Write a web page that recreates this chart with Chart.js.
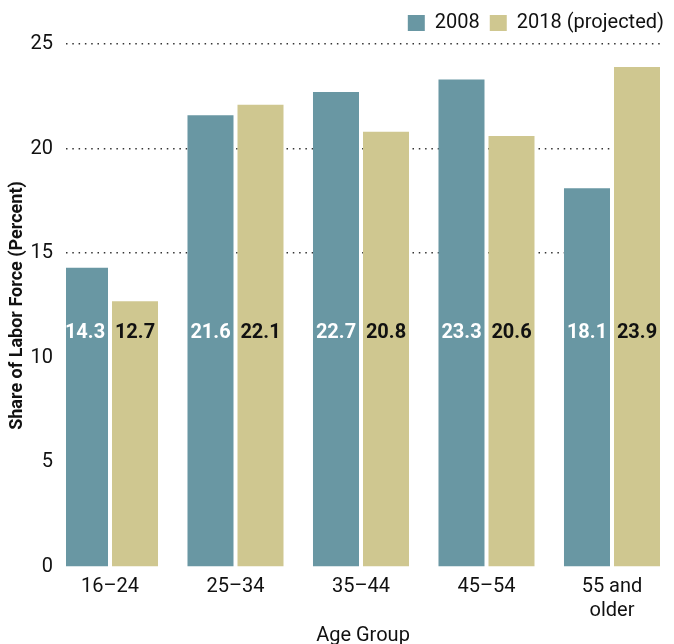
<!DOCTYPE html>
<html>
<head>
<meta charset="utf-8">
<script src="https://cdn.jsdelivr.net/npm/chart.js@4.4.1/dist/chart.umd.min.js"></script>
<style>
  html, body { margin: 0; padding: 0; background: #ffffff; }
  #wrap { width: 674px; height: 644px; position: relative; }
</style>
</head>
<body>
<div id="wrap"><canvas id="c"></canvas></div>
<script>
// ---- data ----
const categories = [["16\u201324"], ["25\u201334"], ["35\u201344"], ["45\u201354"], ["55 and", "older"]];
const seriesNames = ["2008", "2018 (projected)"];
const values2008 = [14.3, 21.6, 22.7, 23.3, 18.1];
const values2018 = [12.7, 22.1, 20.8, 20.6, 23.9];
const yTicks = [0, 5, 10, 15, 20, 25];
const yAxisTitle = "Share of Labor Force (Percent)";
const xAxisTitle = "Age Group";

const BLUE = "#6997a3";
const TAN = "#cfc790";
const FONT = "Roboto, 'DejaVu Sans', sans-serif";

const toPoints = arr => arr.map((v, i) => ({ x: i, y: v }));

const valueLabels = {
  id: "valueLabels",
  afterDatasetsDraw(chart, args, opts) {
    const ctx = chart.ctx;
    const yScale = chart.scales.y;
    ctx.save();
    ctx.font = "bold 20px " + FONT;
    ctx.textAlign = "center";
    ctx.textBaseline = "middle";
    chart.data.datasets.forEach((ds, di) => {
      const meta = chart.getDatasetMeta(di);
      ctx.fillStyle = opts.colors[di];
      meta.data.forEach((bar, i) => {
        const v = ds.data[i].y;
        ctx.fillText(v.toFixed(1), bar.x, yScale.getPixelForValue(opts.atValue));
      });
    });
    ctx.restore();
  }
};

const legendSpacer = {
  id: "legendSpacer",
  beforeInit(chart) {
    const lg = chart.legend;
    if (!lg) return;
    const orig = lg.fit;
    lg.fit = function () { orig.call(this); this.height += 1; };
  }
};

new Chart(document.getElementById("c"), {
  type: "bar",
  data: {
    datasets: [
      { label: seriesNames[0], data: toPoints(values2008), backgroundColor: BLUE, borderWidth: 0 },
      { label: seriesNames[1], data: toPoints(values2018), backgroundColor: TAN, borderWidth: 0 }
    ]
  },
  plugins: [valueLabels, legendSpacer],
  options: {
    responsive: true,
    maintainAspectRatio: false,
    animation: false,
    datasets: { bar: { categoryPercentage: 0.797, barPercentage: 0.92 } },
    layout: { padding: { left: 0, right: 0, top: 3, bottom: 0 } },
    plugins: {
      legend: {
        position: "top",
        align: "end",
        labels: {
          boxWidth: 17,
          boxHeight: 16,
          padding: 10,
          color: "#111",
          font: { family: FONT, size: 20 }
        }
      },
      tooltip: { enabled: false },
      valueLabels: { colors: ["#ffffff", "#111111"], atValue: 11.2 }
    },
    scales: {
      x: {
        type: "linear",
        offset: false,
        min: -0.3506,
        max: 4.3825,
        afterBuildTicks: s => { s.ticks = categories.map((c, i) => ({ value: i })); },
        afterFit: s => { s.height = 77; },
        ticks: {
          color: "#111",
          font: { family: FONT, size: 20, lineHeight: 1.2 },
          padding: 8,
          maxRotation: 0,
          autoSkip: false,
          callback: v => categories[v]
        },
        grid: { display: false, drawTicks: false, offset: false },
        border: { display: false },
        title: {
          display: true,
          text: xAxisTitle,
          color: "#111",
          font: { family: FONT, size: 20, lineHeight: 0.8 },
          padding: { top: 0, bottom: 0 }
        }
      },
      y: {
        min: 0,
        max: 25,
        afterBuildTicks: s => { s.ticks = yTicks.map(v => ({ value: v })); },
        afterFit: s => { s.width = 66; },
        ticks: {
          color: "#111",
          font: { family: FONT, size: 20 },
          padding: 13
        },
        grid: {
          drawTicks: false,
          color: c => (c.tick && c.tick.value >= 15 ? "#333" : "rgba(0,0,0,0)"),
          lineWidth: 1.5
        },
        border: { display: false, dash: [1.5, 4.8] },
        title: {
          display: true,
          text: yAxisTitle,
          color: "#111",
          font: { family: FONT, size: 18, weight: "bold" },
          padding: { top: 7, bottom: 0 }
        }
      },
      yRight: {
        position: "right",
        display: true,
        afterFit: s => { s.width = 14; },
        ticks: { display: false },
        grid: { display: false, drawTicks: false },
        border: { display: false }
      }
    }
  }
});
</script>
</body>
</html>
